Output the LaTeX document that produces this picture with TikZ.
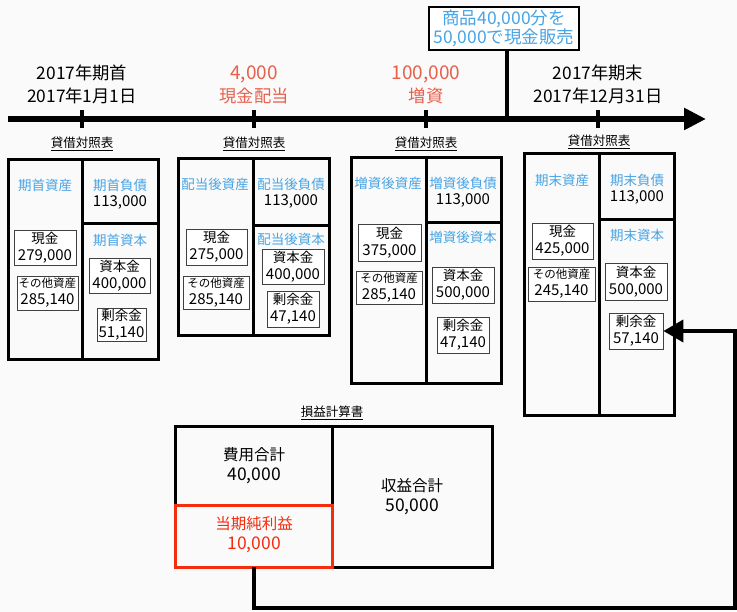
\documentclass[tikz,border=0pt]{standalone}
\usepackage{fontspec}
\setmainfont{Noto Sans CJK JP}
\usetikzlibrary{arrows.meta}
\definecolor{bgc}{RGB}{250,250,250}
\definecolor{lblue}{RGB}{72,164,228}
\definecolor{salmon}{RGB}{230,96,76}
\definecolor{hired}{RGB}{245,45,15}
\newcommand\bnum[1]{{\fontsize{15}{17}\selectfont #1}}
\newcommand\snum[1]{{\fontsize{11.5}{17}\selectfont #1}}
\newcommand\inum[1]{{\fontsize{17.5}{20}\selectfont #1}}
\newcommand\tnum[1]{{\fontsize{19}{23}\selectfont #1}}
\begin{document}
\begin{tikzpicture}[x=1pt,y=-1pt,
  tltext/.style={align=center, inner sep=0, font=\fontsize{17.3}{23}\selectfont},
  col/.style={draw=black, line width=3pt, inner sep=0, outer sep=0},
  lab/.style={text=lblue, inner sep=0, font=\fontsize{13.5}{16}\selectfont},
  num/.style={inner sep=0, font=\fontsize{15}{16}\selectfont},
  ib/.style={draw=black!75, line width=0.8pt, fill=white, align=center, inner sep=0, font=\fontsize{13.5}{17}\selectfont},
  ttl/.style={inner sep=0, font=\fontsize{12.5}{14}\selectfont},
  istext/.style={align=center, inner sep=0, font=\fontsize{15.5}{20}\selectfont},
  tick/.style={line width=3.5pt},
  conn/.style={line width=4pt, -{Triangle[length=20pt,width=22pt]}}
]
\fill[bgc] (0,0) rectangle (737,612);
\useasboundingbox (0,0) rectangle (737,612);

% timeline
\coordinate (tls) at (8,119);
\coordinate (tle) at (706,119);
\draw[line width=5.5pt, -{Triangle[length=22pt,width=21pt]}] (tls) -- (tle);
\foreach \x/\n in {82/t1,254/t2,426/t3,598/t4}{
  \coordinate (\n a) at (\x,110);
  \coordinate (\n b) at (\x,128);
  \draw[tick] (\n a) -- (\n b);
}
\node[tltext] (lab1) at (82,84) {2017年期首\\2017年1月1日};
\node[tltext, text=salmon] (lab2) at (254,85) {\tnum{4,000}\\現金配当};
\node[tltext, text=salmon] (lab3) at (426,85) {\tnum{100,000}\\増資};
\node[tltext] (lab4) at (598,84) {2017年期末\\2017年12月31日};

\node[draw=black, line width=1.5pt, fill=white, text=lblue, align=center, inner sep=0,
  minimum width=150pt, minimum height=43pt, font=\fontsize{17.5}{19}\selectfont] (sale) at (504,28.5)
  {商品40,000分を\\50,000で現金販売};
\coordinate (saleb) at (507,50);
\draw[line width=4pt] (saleb) -- (saleb |- tls);

% ---------- BS1
\node[ttl] (ttl1) at (82,144) {\underline{貸借対照表}};
\node[col, minimum width=74pt, minimum height=200pt] (a1) at (45,260) {};
\node[col, minimum width=76pt, minimum height=64pt] (l1) at (120,192) {};
\node[col, minimum width=76pt, minimum height=136pt] (e1) at (120,292) {};
\node[lab] (a1l) at (45,185) {期首資産};
\node[lab] (l1l) at (120,185) {期首負債};
\node[num] (l1n) at (120,202) {113,000};
\node[lab] (e1l) at (120,240) {期首資本};
\node[ib, minimum width=62pt, minimum height=35pt] (c1) at (45,247.5) {現金\\\bnum{279,000}};
\node[ib, minimum width=61pt, minimum height=34pt] (o1) at (47.5,293) {\snum{その他資産}\\\bnum{285,140}};
\node[ib, minimum width=61pt, minimum height=35pt] (k1) at (119.5,275.5) {資本金\\\bnum{400,000}};
\node[ib, minimum width=49pt, minimum height=33pt] (s1) at (121.5,324.5) {剰余金\\\bnum{51,140}};

% ---------- BS2
\node[ttl] (ttl2) at (254,144) {\underline{貸借対照表}};
\node[col, minimum width=75pt, minimum height=177pt] (a2) at (215.5,247.5) {};
\node[col, minimum width=76pt, minimum height=67pt] (l2) at (291,192.5) {};
\node[col, minimum width=76pt, minimum height=110pt] (e2) at (291,281) {};
\node[lab] (a2l) at (215,184) {配当後資産};
\node[lab] (l2l) at (291,184) {配当後負債};
\node[num] (l2n) at (291,201) {113,000};
\node[lab] (e2l) at (291,239) {配当後資本};
\node[ib, minimum width=61pt, minimum height=36pt] (c2) at (216.5,247) {現金\\\bnum{275,000}};
\node[ib, minimum width=66pt, minimum height=33pt] (o2) at (216,292.5) {\snum{その他資産}\\\bnum{285,140}};
\node[ib, minimum width=62pt, minimum height=35pt] (k2) at (293,266.5) {資本金\\\bnum{400,000}};
\node[ib, minimum width=52pt, minimum height=36pt] (s2) at (293,309) {剰余金\\\bnum{47,140}};

% ---------- BS3
\node[ttl] (ttl3) at (426,144) {\underline{貸借対照表}};
\node[col, minimum width=75pt, minimum height=226pt] (a3) at (388.5,271) {};
\node[col, minimum width=75pt, minimum height=65pt] (l3) at (463.5,190.5) {};
\node[col, minimum width=75pt, minimum height=161pt] (e3) at (463.5,303.5) {};
\node[lab] (a3l) at (388,183) {増資後資産};
\node[lab] (l3l) at (463,183) {増資後負債};
\node[num] (l3n) at (463,200) {113,000};
\node[lab] (e3l) at (463,237) {増資後資本};
\node[ib, minimum width=63pt, minimum height=37pt] (c3) at (389.5,242.5) {現金\\\bnum{375,000}};
\node[ib, minimum width=66pt, minimum height=33pt] (o3) at (389,287.5) {\snum{その他資産}\\\bnum{285,140}};
\node[ib, minimum width=62pt, minimum height=36pt] (k3) at (463,285) {資本金\\\bnum{500,000}};
\node[ib, minimum width=52pt, minimum height=36pt] (s3) at (463,335) {剰余金\\\bnum{47,140}};

% ---------- BS4
\node[ttl] (ttl4) at (599,142) {\underline{貸借対照表}};
\node[col, minimum width=75pt, minimum height=262pt] (a4) at (561.5,285) {};
\node[col, minimum width=75pt, minimum height=66pt] (l4) at (636.5,187) {};
\node[col, minimum width=75pt, minimum height=196pt] (e4) at (636.5,318) {};
\node[lab] (a4l) at (562,180) {期末資産};
\node[lab] (l4l) at (637,180) {期末負債};
\node[num] (l4n) at (637,197) {113,000};
\node[lab] (e4l) at (637,235) {期末資本};
\node[ib, minimum width=61pt, minimum height=36pt] (c4) at (562.5,241) {現金\\\bnum{425,000}};
\node[ib, minimum width=67pt, minimum height=34pt] (o4) at (561.5,284) {\snum{その他資産}\\\bnum{245,140}};
\node[ib, minimum width=62pt, minimum height=37pt] (k4) at (636,281.5) {資本金\\\bnum{500,000}};
\node[ib, minimum width=54pt, minimum height=36pt] (s4) at (636,331) {剰余金\\\bnum{57,140}};

% ---------- Income statement
\node[ttl] (ttlis) at (332,413) {\underline{損益計算書}};
\node[col, minimum width=157pt, minimum height=78pt] (exp) at (253.5,466) {};
\node[col, minimum width=160pt, minimum height=140pt] (rev) at (412,497) {};
\node[col, draw=hired, minimum width=157pt, minimum height=62pt] (ni) at (253.5,536) {};
\node[istext] (expt) at (254,466) {費用合計\\\inum{40,000}};
\node[istext] (revt) at (412,497) {収益合計\\\inum{50,000}};
\node[istext, text=hired] (nit) at (254,535) {当期純利益\\\inum{10,000}};

% connector
\coordinate (cr) at (735,608);
\draw[conn] (ni.south) |- (cr) |- (s4.east);
\end{tikzpicture}
\end{document}
